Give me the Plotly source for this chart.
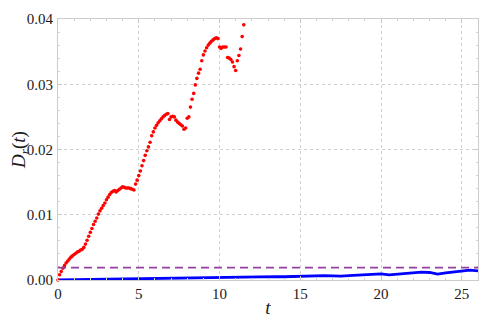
import plotly.graph_objects as go

# Red dotted series (t, D_r)
red_t = [0.0, 0.1, 0.2, 0.3, 0.4, 0.5, 0.6, 0.7, 0.8, 0.9,
         1.0, 1.1, 1.2, 1.3, 1.4, 1.5, 1.6, 1.7, 1.8, 1.9,
         2.0, 2.1, 2.2, 2.3, 2.4, 2.5, 2.6, 2.7, 2.8, 2.9,
         3.0, 3.1, 3.2, 3.3, 3.4, 3.5, 3.6, 3.7, 3.8, 3.9,
         4.0, 4.1, 4.2, 4.3, 4.4, 4.5, 4.6, 4.7, 4.8, 4.9,
         5.0, 5.1, 5.2, 5.3, 5.4, 5.5, 5.6, 5.7, 5.8, 5.9,
         6.0, 6.1, 6.2, 6.3, 6.4, 6.5, 6.6, 6.7, 6.8, 6.9,
         7.0, 7.1, 7.2, 7.3, 7.4, 7.5, 7.6, 7.7, 7.8, 7.9,
         8.0, 8.1, 8.2, 8.3, 8.4, 8.5, 8.6, 8.7, 8.8, 8.9,
         9.0, 9.1, 9.2, 9.3, 9.4, 9.5, 9.6, 9.7, 9.8, 9.9,
         10.0, 10.1, 10.2, 10.3, 10.4, 10.5, 10.6, 10.7, 10.8, 10.9,
         11.0, 11.1, 11.2, 11.3, 11.4, 11.5, 11.6, 11.7]
red_d = [0.0000, 0.0008, 0.0013, 0.0018, 0.0022, 0.0026, 0.0029, 0.0032, 0.0035, 0.0037,
         0.0039, 0.0041, 0.0043, 0.0044, 0.0046, 0.0047, 0.0050, 0.0055, 0.0061, 0.0067,
         0.0073, 0.0079, 0.0085, 0.0090, 0.0095, 0.0101, 0.0106, 0.0110, 0.0114, 0.0118,
         0.0123, 0.0127, 0.0131, 0.0134, 0.0136, 0.0137, 0.0135, 0.0137, 0.0139, 0.0141,
         0.0143, 0.0142, 0.0141, 0.0141, 0.0141, 0.0140, 0.0139, 0.0138, 0.0147, 0.0153,
         0.0160, 0.0167, 0.0175, 0.0183, 0.0191, 0.0198, 0.0204, 0.0211, 0.0221, 0.0227,
         0.0233, 0.0237, 0.0241, 0.0244, 0.0247, 0.0250, 0.0252, 0.0254, 0.0255, 0.0246,
         0.0250, 0.0251, 0.0250, 0.0245, 0.0242, 0.0240, 0.0238, 0.0236, 0.0231, 0.0233,
         0.0248, 0.0250, 0.0265, 0.0277, 0.0286, 0.0299, 0.0309, 0.0317, 0.0323, 0.0336,
         0.0345, 0.0351, 0.0356, 0.0360, 0.0363, 0.0366, 0.0368, 0.0370, 0.0371, 0.0370,
         0.0357, 0.0355, 0.0357, 0.0357, 0.0357, 0.0341, 0.0340, 0.0338, 0.0334, 0.0327,
         0.0321, 0.0336, 0.0344, 0.0354, 0.0373, 0.0391, 0.0402, 0.0420]

# Blue line series
blue_t = [0, 0.5, 1, 1.5, 2, 2.5, 3, 3.5, 4, 4.5, 5, 5.5, 6, 6.5, 7, 7.5, 8, 8.5, 9, 9.5,
          10, 10.5, 11, 11.5, 12, 12.5, 13, 13.5, 14, 14.5, 15, 15.5, 16, 16.5, 17, 17.5,
          18, 18.5, 19, 19.5, 20, 20.5, 21, 21.5, 22, 22.5, 23, 23.5, 24, 24.5, 25, 25.5, 26]
blue_d = [0.0, 0.00002, 0.00004, 0.00006, 0.00008, 0.0001, 0.00012, 0.00014, 0.00016, 0.00018,
          0.0002, 0.00022, 0.00025, 0.00027, 0.00028, 0.0003, 0.00032, 0.00035, 0.00038, 0.00042,
          0.00045, 0.00044, 0.00048, 0.00052, 0.00056, 0.00058, 0.00055, 0.00052, 0.0005, 0.00055,
          0.0006, 0.00062, 0.00064, 0.00066, 0.00062, 0.00058, 0.00066, 0.00074, 0.0008, 0.00088,
          0.00095, 0.0008, 0.0009, 0.00105, 0.0011, 0.0012, 0.00115, 0.0009, 0.0011, 0.0012,
          0.0013, 0.0015, 0.0014]

threshold = 0.0019
x_range = [0, 26]
y_range = [0, 0.04]
x_ticks = [0, 5, 10, 15, 20, 25]
x_tick_labels = ["0", "5", "10", "15", "20", "25"]
y_ticks = [0.00, 0.01, 0.02, 0.03, 0.04]
y_tick_labels = ["0.00", "0.01", "0.02", "0.03", "0.04"]

SERIF = "Liberation Serif"

fig = go.Figure()
fig.add_trace(go.Scatter(x=blue_t, y=blue_d, mode="lines",
                         line=dict(color="#0000ff", width=2.8), showlegend=False))
fig.add_trace(go.Scatter(x=red_t, y=red_d, mode="markers",
                         marker=dict(color="#ff0000", size=3.6, line=dict(width=0)),
                         showlegend=False, cliponaxis=False))
fig.add_shape(type="line", xref="x", yref="y", x0=x_range[0], x1=x_range[1],
              y0=threshold, y1=threshold,
              line=dict(color="#9440a0", width=1.6, dash="8px,5px"))

axis_common = dict(showline=True, linecolor="#cccccc", linewidth=1, mirror="ticks",
                   showgrid=True, gridcolor="#cfcfcf", griddash="3px,3px", gridwidth=1,
                   ticks="inside", tickcolor="#c8c8c8", ticklen=4, automargin=False,
                   zeroline=False, tickfont=dict(family=SERIF, size=15, color="#1a1a1a"))

fig.update_xaxes(range=x_range, tickvals=x_ticks, ticktext=x_tick_labels, **axis_common,
                 minor=dict(dtick=1, ticks="inside", ticklen=2, tickcolor="#d4d4d4", showgrid=False),
                 title=dict(text="<i>t</i>", font=dict(family=SERIF, size=19, color="#1a1a1a"),
                            standoff=7))
fig.update_yaxes(range=y_range, tickvals=y_ticks, ticktext=y_tick_labels, **axis_common,
                 ticklabelstandoff=1,
                 minor=dict(dtick=0.002, ticks="inside", ticklen=2, tickcolor="#d4d4d4", showgrid=False),
                 title=dict(text="<i>D</i><sub><i>r</i></sub>(<i>t</i>)",
                            font=dict(family=SERIF, size=19, color="#1a1a1a"), standoff=12))

fig.update_layout(width=482, height=310, margin=dict(l=50, r=12, t=11, b=38),
                  plot_bgcolor="white", paper_bgcolor="white",
                  font=dict(family=SERIF))

fig.write_html("out.html")
